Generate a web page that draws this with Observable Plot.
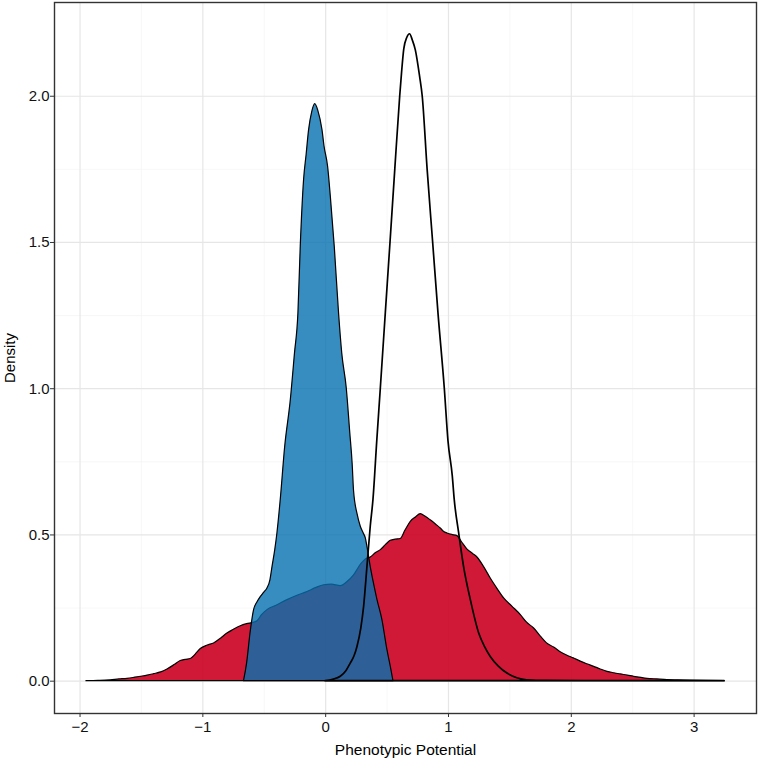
<!DOCTYPE html>
<html><head><meta charset="utf-8">
<script src="https://cdn.jsdelivr.net/npm/d3@7"></script>
<script src="https://cdn.jsdelivr.net/npm/@observablehq/plot@0.6"></script>
<style>body{margin:0;background:#fff}</style>
</head><body><div id="chart"></div>
<script>
// Red (broad) density
const redX = [-1.948,-1.85,-1.75,-1.68,-1.614,-1.55,-1.506,-1.45,-1.397,-1.34,-1.288,-1.23,-1.18,-1.14,-1.098,-1.06,-1.017,-0.96,-0.909,-0.85,-0.80,-0.75,-0.691,-0.64,-0.583,-0.555,-0.52,-0.474,-0.40,-0.311,-0.23,-0.148,-0.08,-0.013,0.05,0.123,0.18,0.231,0.29,0.327,0.367,0.41,0.449,0.49,0.530,0.57,0.611,0.65,0.693,0.735,0.774,0.815,0.855,0.90,0.937,0.965,0.992,1.03,1.073,1.11,1.155,1.20,1.236,1.29,1.344,1.40,1.453,1.52,1.589,1.64,1.697,1.752,1.80,1.86,1.91,1.969,2.02,2.077,2.13,2.186,2.24,2.295,2.35,2.403,2.46,2.511,2.57,2.62,2.70,2.783,2.87,2.97,3.10,3.248];
const redY = [0,0.001,0.003,0.006,0.008,0.012,0.015,0.019,0.024,0.030,0.040,0.055,0.069,0.073,0.076,0.090,0.110,0.122,0.129,0.146,0.163,0.175,0.188,0.195,0.200,0.205,0.225,0.243,0.258,0.277,0.292,0.305,0.318,0.328,0.330,0.325,0.340,0.362,0.400,0.416,0.423,0.438,0.448,0.465,0.480,0.484,0.486,0.515,0.545,0.560,0.571,0.562,0.550,0.535,0.522,0.510,0.505,0.500,0.496,0.475,0.450,0.435,0.423,0.390,0.351,0.315,0.283,0.255,0.226,0.200,0.180,0.152,0.130,0.115,0.100,0.087,0.078,0.067,0.058,0.049,0.040,0.032,0.027,0.023,0.019,0.015,0.011,0.008,0.006,0.004,0.003,0.002,0.001,0];

// Blue (narrow, filled) density
const blueX = [-0.665,-0.64,-0.61,-0.583,-0.555,-0.528,-0.50,-0.474,-0.45,-0.433,-0.41,-0.393,-0.366,-0.33,-0.284,-0.25,-0.222,-0.203,-0.176,-0.155,-0.135,-0.11,-0.085,-0.06,-0.026,-0.01,0.02,0.042,0.074,0.109,0.135,0.172,0.20,0.22,0.231,0.26,0.286,0.31,0.327,0.34,0.367,0.395,0.422,0.462,0.503,0.53,0.552];
const blueY = [0,0.06,0.17,0.243,0.27,0.288,0.303,0.317,0.345,0.39,0.45,0.505,0.619,0.80,0.96,1.12,1.257,1.485,1.713,1.80,1.884,1.945,1.973,1.95,1.884,1.83,1.758,1.656,1.485,1.257,1.12,1.0,0.85,0.74,0.65,0.57,0.528,0.505,0.488,0.459,0.39,0.33,0.277,0.209,0.106,0.05,0];

// Black (outline only) density
const blackX = [0.0,0.06,0.123,0.17,0.204,0.235,0.259,0.29,0.313,0.34,0.367,0.389,0.42,0.449,0.49,0.528,0.567,0.607,0.622,0.64,0.665,0.687,0.71,0.734,0.769,0.79,0.83,0.875,0.92,0.97,1.0,1.035,1.051,1.087,1.127,1.182,1.25,1.30,1.344,1.41,1.48,1.56,1.64,1.8,2.2,2.8,3.248];
const blackY = [0,0.005,0.015,0.035,0.06,0.085,0.117,0.18,0.254,0.39,0.528,0.619,0.82,1.0,1.26,1.5,1.75,2.0,2.08,2.16,2.20,2.212,2.19,2.157,2.066,2.0,1.75,1.5,1.25,1.0,0.82,0.7,0.619,0.505,0.39,0.277,0.163,0.115,0.083,0.05,0.026,0.01,0.003,0.001,0.0005,0.0002,0];

const xTicks = [-2,-1,0,1,2,3];
const xMinor = [-1.5,-0.5,0.5,1.5,2.5];
const yTicks = [0,0.5,1.0,1.5,2.0];
const yMinor = [0.25,0.75,1.25,1.75];

const rows = (xs, ys) => xs.map((x, i) => ({x, y: ys[i]}));
const red = rows(redX, redY), blue = rows(blueX, blueY), black = rows(blackX, blackY);

const chart = Plot.plot({
  width: 759, height: 764,
  marginLeft: 54, marginRight: 3, marginTop: 2, marginBottom: 51,
  x: {domain: [-2.208, 3.508]},
  y: {domain: [-0.1105, 2.3205]},
  style: {fontFamily: "'Liberation Sans', Arial, sans-serif", background: "white", color: "#111"},
  marks: [
    Plot.gridX(xMinor, {stroke: "#f3f3f3", strokeOpacity: 1, strokeWidth: 0.7}),
    Plot.gridY(yMinor, {stroke: "#f3f3f3", strokeOpacity: 1, strokeWidth: 0.7}),
    Plot.gridX(xTicks, {stroke: "#e6e6e6", strokeOpacity: 1, strokeWidth: 1.2}),
    Plot.gridY(yTicks, {stroke: "#e6e6e6", strokeOpacity: 1, strokeWidth: 1.2}),
    Plot.areaY(red, {x: "x", y: "y", fill: "#ca0020", fillOpacity: 0.9, stroke: "black", strokeWidth: 1.2, curve: "monotone-x"}),
    Plot.areaY(blue, {x: "x", y: "y", fill: "#0571b0", fillOpacity: 0.8, stroke: "black", strokeWidth: 1.2, curve: "monotone-x"}),
    Plot.areaY(black, {x: "x", y: "y", fill: "none", stroke: "black", strokeWidth: 1.7, curve: "monotone-x"}),
    Plot.frame({stroke: "#333333", strokeWidth: 1.4}),
    Plot.axisX(xTicks, {tickSize: 4, tickPadding: 4, fontSize: 15, label: null, stroke: "#333333", tickFormat: d3.format("d")}),
    Plot.axisY(yTicks, {tickSize: 4, tickPadding: 1, fontSize: 15, label: null, stroke: "#333333", tickFormat: d3.format(".1f")}),
    Plot.text(["Phenotypic Potential"], {frameAnchor: "bottom", dy: 41, fontSize: 15.5, fill: "black"}),
    Plot.text(["Density"], {frameAnchor: "left", dx: -44, rotate: -90, textAnchor: "middle", fontSize: 15, fill: "black"})
  ]
});
document.getElementById("chart").appendChild(chart);
</script>
</body></html>
